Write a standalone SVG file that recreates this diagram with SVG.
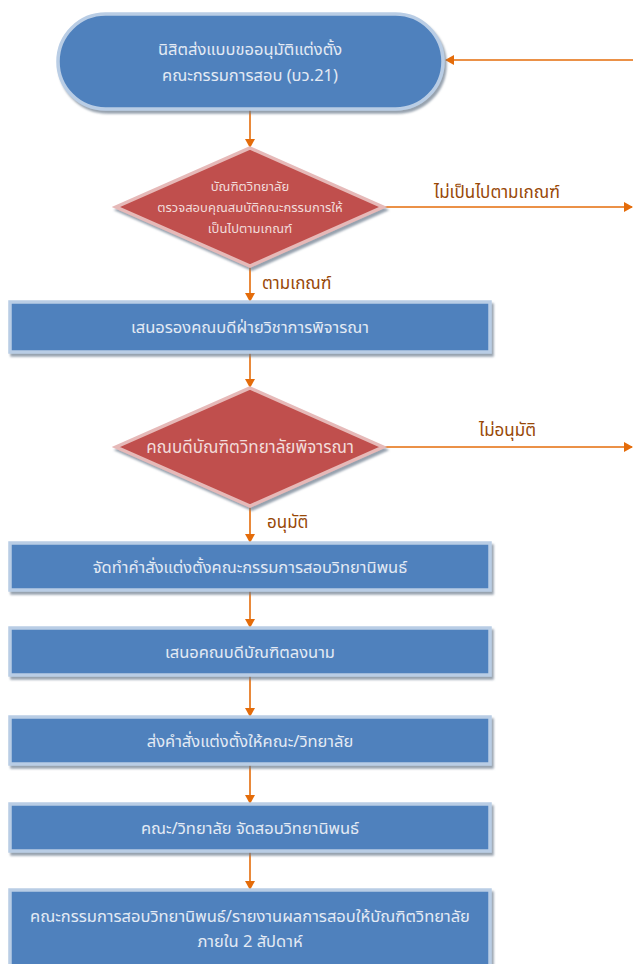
<svg xmlns="http://www.w3.org/2000/svg" width="633" height="964" viewBox="0 0 633 964">
<defs>
<marker id="ah" markerWidth="10" markerHeight="10" refX="8" refY="5" orient="auto" markerUnits="userSpaceOnUse">
<path d="M0,0 L9,5 L0,10 Z" fill="#E46C0A"/>
</marker>
<filter id="sh" x="-5%" y="-5%" width="115%" height="130%">
<feDropShadow dx="2" dy="3" stdDeviation="1" flood-color="#6A7A8C" flood-opacity="0.7"/>
</filter>
</defs>
<style>
.box{fill:#4F81BD;stroke:#B9CDE5;stroke-width:3.5;filter:url(#sh)}
.dia{fill:#C0504D;stroke:#E6B9B8;stroke-width:3.5;filter:url(#sh)}
.t{font-family:"Noto Sans Thai","Tahoma","Noto Sans","DejaVu Sans",sans-serif;fill:#E3EAF4;text-anchor:middle;font-size:16.5px}
.td{font-family:"Noto Sans Thai","Tahoma","Noto Sans","DejaVu Sans",sans-serif;fill:#F2DCDB;text-anchor:middle}
.lb{font-family:"Noto Sans Thai","Tahoma","Noto Sans","DejaVu Sans",sans-serif;fill:#984807;font-size:17px}
.c{stroke:#E46C0A;stroke-width:1.6;fill:none;marker-end:url(#ah)}
</style>
<g id="connectors">
<line class="c" x1="633" y1="60" x2="446" y2="60"/>
<line class="c" x1="250" y1="110" x2="250" y2="147"/>
<line class="c" x1="383" y1="207" x2="632" y2="207"/>
<line class="c" x1="250" y1="266" x2="250" y2="301"/>
<line class="c" x1="250" y1="353" x2="250" y2="387"/>
<line class="c" x1="383" y1="447" x2="632" y2="447"/>
<line class="c" x1="250" y1="506" x2="250" y2="542"/>
<line class="c" x1="250" y1="591" x2="250" y2="627"/>
<line class="c" x1="250" y1="676" x2="250" y2="716"/>
<line class="c" x1="250" y1="765" x2="250" y2="803"/>
<line class="c" x1="250" y1="852" x2="250" y2="889"/>
<text class="lb" x="434" y="198">ไม่เป็นไปตามเกณฑ์</text>
<text class="lb" x="262" y="289">ตามเกณฑ์</text>
<text class="lb" x="479" y="436">ไม่อนุมัติ</text>
<text class="lb" x="267" y="528">อนุมัติ</text>
</g>
<g id="start">
<rect class="box" x="58" y="14" width="385" height="95" rx="47.5"/>
<text class="t" x="250" y="55" font-size="16">นิสิตส่งแบบขออนุมัติแต่งตั้ง</text>
<text class="t" x="250" y="81" font-size="16">คณะกรรมการสอบ (บว.21)</text>
</g>
<g id="check">
<polygon class="dia" points="250,148 383,207 250,266 116,207"/>
<text class="td" x="250" y="191" font-size="13">บัณฑิตวิทยาลัย</text>
<text class="td" x="250" y="212" font-size="13">ตรวจสอบคุณสมบัติคณะกรรมการให้</text>
<text class="td" x="250" y="233" font-size="13">เป็นไปตามเกณฑ์</text>
</g>
<g id="propose">
<rect class="box" x="10" y="302" width="480" height="50"/>
<text class="t" x="250" y="333">เสนอรองคณบดีฝ่ายวิชาการพิจารณา</text>
</g>
<g id="dean">
<polygon class="dia" points="250,388 383,447 250,506 116,447"/>
<text class="td" x="250" y="453" font-size="17">คณบดีบัณฑิตวิทยาลัยพิจารณา</text>
</g>
<g id="order">
<rect class="box" x="10" y="543" width="480" height="47"/>
<text class="t" x="250" y="573">จัดทำคำสั่งแต่งตั้งคณะกรรมการสอบวิทยานิพนธ์</text>
</g>
<g id="sign">
<rect class="box" x="10" y="628" width="480" height="47"/>
<text class="t" x="250" y="658">เสนอคณบดีบัณฑิตลงนาม</text>
</g>
<g id="send">
<rect class="box" x="10" y="717" width="480" height="47"/>
<text class="t" x="250" y="747">ส่งคำสั่งแต่งตั้งให้คณะ/วิทยาลัย</text>
</g>
<g id="exam">
<rect class="box" x="10" y="804" width="480" height="47"/>
<text class="t" x="250" y="834">คณะ/วิทยาลัย จัดสอบวิทยานิพนธ์</text>
</g>
<g id="report">
<rect class="box" x="10" y="890" width="480" height="85"/>
<text class="t" x="250" y="922">คณะกรรมการสอบวิทยานิพนธ์/รายงานผลการสอบให้บัณฑิตวิทยาลัย</text>
<text class="t" x="250" y="947">ภายใน 2 สัปดาห์</text>
</g>
</svg>
